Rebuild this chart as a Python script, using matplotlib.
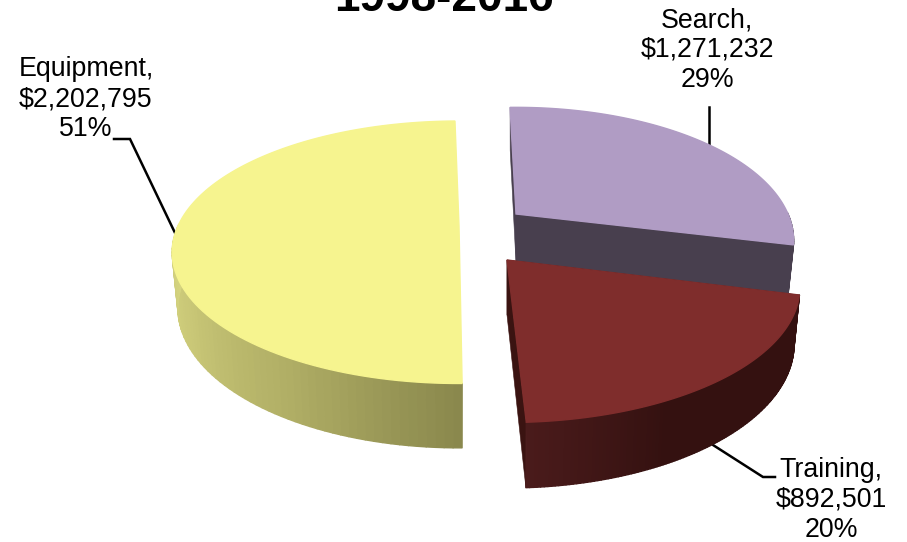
#!/usr/bin/env python3
"""Exploded 3D pie of spending by category, drawn as polygons."""

import numpy as np
import matplotlib
matplotlib.use("Agg")
import matplotlib.pyplot as plt
from matplotlib.collections import PolyCollection
from matplotlib.colors import to_rgb

plt.rcParams["font.family"] = ["Liberation Sans", "DejaVu Sans"]

categories = ["Search", "Training", "Equipment"]
amounts = [1271232, 892501, 2202795]
percents = [29, 20, 51]
title = "1998-2016"

START_ANGLE = 91.5
PERSPECTIVE = 0.2
BOTTOM_SCALE = 0.98

# apex position, radii and wall height of each exploded slice, in pixels
# turn / squeeze: small angle corrections the 3D view puts on a slice
SLICE_STYLE = {
    "Search": dict(apex=(516, 214), a=272, b=128, depth=49, top="#b09cc4",
                   wall=["#483f4e", "#483f4e"], cut="#483f4e", cuts=True, turn=0, squeeze=1),
    "Training": dict(apex=(507, 260), a=287, b=130, depth=55, top="#7f2d2c",
                     wall=["#341110", "#341110", "#341110", "#4a1b1b"], cut="#3a1311", cuts=True,
                     turn=-1.5, squeeze=0.98),
    "Equipment": dict(apex=(459, 226), a=281, b=126, depth=54, top="#f6f48f",
                      wall=["#8a884d", "#b0ae65", "#c9c777", "#d6d580"], cut="#8a884d", cuts=False,
                      turn=-2.6, squeeze=0.9885),
}
DRAW_ORDER = ["Search", "Equipment", "Training"]

LABEL_POS = {"Equipment": (86, 99), "Search": (707, 50), "Training": (831, 500)}
LEADERS = {
    "Equipment": [(114, 139), (130, 139), (176, 235)],
    "Search": [(709, 107), (709, 147)],
    "Training": [(713, 445), (763, 477), (775, 477)],
}


def project_ground(style, x, y, s, bottom):
    ax_, ay_ = style["apex"]
    dx = style["a"] * x * s
    dy = -style["b"] * y * s
    if bottom:
        return ax_ + dx * BOTTOM_SCALE, ay_ + dy * BOTTOM_SCALE + style["depth"] * s
    return ax_ + dx, ay_ + dy


def project(style, theta, bottom=False):
    """Screen position of a rim point at angle theta (radians)."""
    x, y = np.cos(theta), np.sin(theta)
    s = 1 / (1 + PERSPECTIVE * y)
    return project_ground(style, x, y, s, bottom)


def gradient(stops, n):
    stops = np.array([to_rgb(c) for c in stops])
    pos = np.linspace(0, 1, len(stops))
    t = np.linspace(0, 1, n)
    return np.column_stack([np.interp(t, pos, stops[:, i]) for i in range(3)])


def draw_slice(ax, style, start, sweep):
    thetas = np.radians(np.linspace(start, start - sweep, 121))

    if style["cuts"]:
        apex_top = project_ground(style, 0, 0, 1, False)
        apex_bot = project_ground(style, 0, 0, 1, True)
        for th in (thetas[0], thetas[-1]):
            face = [apex_top, project(style, th), project(style, th, True), apex_bot]
            ax.add_patch(plt.Polygon(face, fc=style["cut"], ec=style["cut"], lw=0.4))

    # only the part of the wall turned towards the viewer
    strips = []
    for t0, t1 in zip(thetas[:-1], thetas[1:]):
        if np.sin(t0) < 0 or np.sin(t1) < 0:
            strips.append([project(style, t0), project(style, t1),
                           project(style, t1, True), project(style, t0, True)])
    colors = gradient(style["wall"], len(strips))
    ax.add_collection(PolyCollection(strips, facecolors=colors, edgecolors=colors, linewidths=1.0))

    outline = [project_ground(style, 0, 0, 1, False)] + [project(style, t) for t in thetas]
    ax.add_patch(plt.Polygon(outline, fc=style["top"], ec=style["top"], lw=1.0))


def main():
    fig = plt.figure(figsize=(9.07, 5.42), dpi=100)
    ax = fig.add_axes([0, 0, 1, 1])
    ax.set_xlim(0, 907)
    ax.set_ylim(542, 0)
    ax.axis("off")

    total = sum(amounts)
    angle = START_ANGLE
    slices = {}
    for c, v in zip(categories, amounts):
        sweep = 360 * v / total
        style = SLICE_STYLE[c]
        slices[c] = (angle + style["turn"], sweep * style["squeeze"])
        angle -= sweep

    for c in categories:
        ax.plot(*zip(*LEADERS[c]), color="black", lw=1.8, solid_joinstyle="miter", zorder=1)

    for c in DRAW_ORDER:
        draw_slice(ax, SLICE_STYLE[c], *slices[c])

    for c, v, p in zip(categories, amounts, percents):
        x, y = LABEL_POS[c]
        ax.text(x, y, f"{c},\n${v:,}\n{p}%", ha="center", va="center",
                fontsize=19.3, linespacing=1.18, color="black")

    ax.text(444, 11, title, ha="center", va="baseline", fontsize=33, fontweight="bold", color="black")

    fig.savefig("out.png", dpi=100)
    plt.close(fig)


if __name__ == "__main__":
    main()
